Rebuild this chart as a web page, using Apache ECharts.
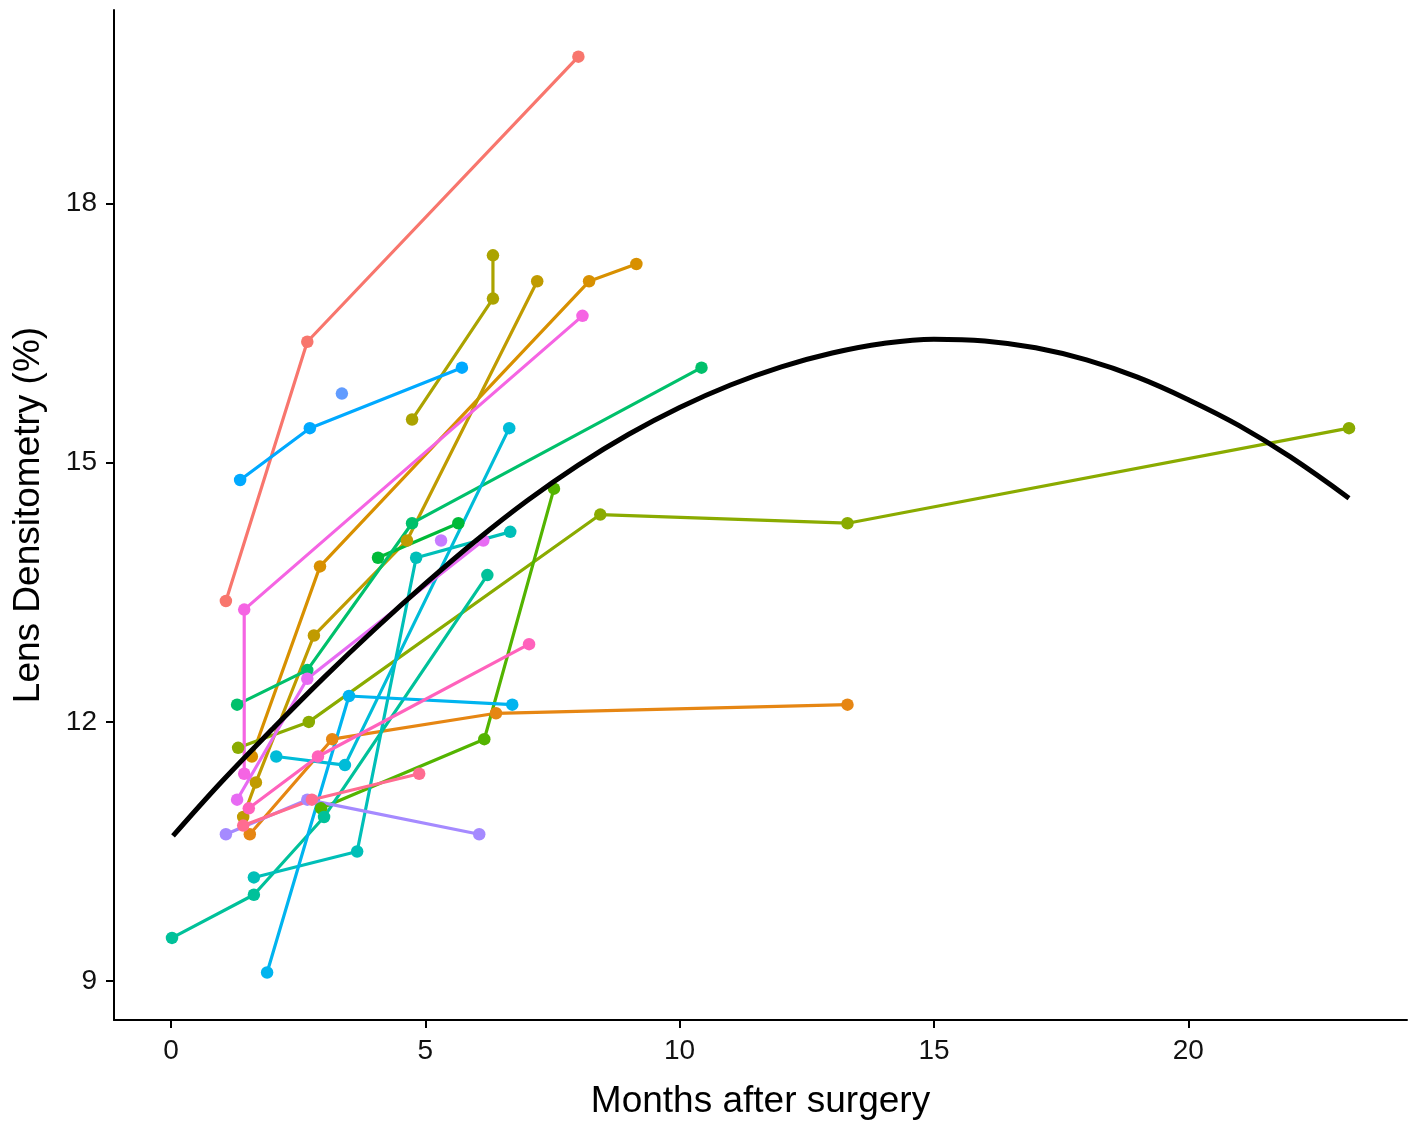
<!DOCTYPE html>
<html lang="en">

<head>
    <meta charset="UTF-8">
    <title>Lens Densitometry</title>
    <script src="https://cdn.jsdelivr.net/npm/echarts@6/dist/echarts.min.js"></script>
    <style>
        html, body { margin: 0; padding: 0; background: #fff; }
        #main { width: 1414px; height: 1122px; }
    </style>
</head>

<body>
    <div id="main"></div>
    <script type="text/javascript">
        // one pair of arrays per eye: months after surgery / densitometry (%)
        var m01 = [1.08, 2.68, 8.01];              var d01 = [13.4, 16.4, 19.7];
        var m02 = [1.59, 2.93, 8.22, 9.15];        var d02 = [11.6, 13.8, 17.1, 17.3];
        var m03 = [1.55, 3.17, 6.39, 13.3];        var d03 = [10.7, 11.8, 12.1, 12.2];
        var m04 = [1.42, 1.67, 2.81, 4.64, 7.2];   var d04 = [10.9, 11.3, 13.0, 14.1, 17.1];
        var m05 = [4.74, 6.33, 6.33];              var d05 = [15.5, 16.9, 17.4];
        var m06 = [1.32, 2.71, 8.44, 13.3, 23.16]; var d06 = [11.7, 12.0, 14.4, 14.3, 15.4];
        var m07 = [2.95, 6.16, 7.53];              var d07 = [11.0, 11.8, 14.7];
        var m08 = [4.07, 5.65];                    var d08 = [13.9, 14.3];
        var m09 = [1.3, 2.68, 4.74, 10.43];        var d09 = [12.2, 12.6, 14.3, 16.1];
        var m10 = [0.02, 1.63, 3.01, 6.22];        var d10 = [9.5, 10.0, 10.9, 13.7];
        var m11 = [1.63, 3.66, 4.82, 6.67];        var d11 = [10.2, 10.5, 13.9, 14.2];
        var m12 = [2.07, 3.42, 6.65];              var d12 = [11.6, 11.5, 15.4];
        var m13 = [1.89, 3.5, 6.71];               var d13 = [9.1, 12.3, 12.2];
        var m14 = [1.36, 2.73, 5.72];              var d14 = [14.8, 15.4, 16.1];
        var m15 = [3.36];                          var d15 = [15.8];
        var m16 = [1.08, 2.68, 6.06];              var d16 = [10.7, 11.1, 10.7];
        var m17 = [5.31];                          var d17 = [14.1];
        var m18 = [1.3, 2.68, 6.14];               var d18 = [11.1, 12.5, 14.1];
        var m19 = [1.44, 1.44, 8.09];              var d19 = [11.4, 13.3, 16.7];
        var m20 = [1.53, 2.89, 7.04];              var d20 = [11.0, 11.6, 12.9];
        var m21 = [1.42, 2.77, 4.88];              var d21 = [10.8, 11.1, 11.4];

        var colors = ['#F8766D', '#D89000', '#E68613', '#C09B00', '#ABA300', '#8AAB00',
            '#53B400', '#00BA38', '#00C06B', '#00C19A', '#00BFB8', '#00BCD8', '#00B4EF',
            '#00A9FF', '#619CFF', '#A58AFF', '#C77CFF', '#E76BF3', '#F564E3', '#FF62BC', '#FF6C91'];
        var months = [m01, m02, m03, m04, m05, m06, m07, m08, m09, m10, m11, m12, m13, m14, m15, m16, m17, m18, m19, m20, m21];
        var dens = [d01, d02, d03, d04, d05, d06, d07, d08, d09, d10, d11, d12, d13, d14, d15, d16, d17, d18, d19, d20, d21];

        // smooth trend
        var fitX = [0.04, 1, 2, 3, 4, 5, 6, 7, 8, 9, 10, 11, 12, 13, 14, 15, 16, 17, 18, 19, 20, 21, 22, 23.16];
        var fitY = [10.68, 11.31, 11.92, 12.51, 13.07, 13.6, 14.1, 14.56, 14.97, 15.33, 15.64, 15.9, 16.11, 16.27,
            16.38, 16.43, 16.41, 16.33, 16.19, 15.99, 15.73, 15.43, 15.07, 14.59];

        var xTicks = [0, 5, 10, 15, 20];
        var yTicks = [9, 12, 15, 18];

        var series = [];
        for (var i = 0; i < months.length; i++) {
            series.push({
                type: 'line',
                data: months[i].map(function (m, k) { return [m, dens[i][k]]; }),
                symbol: 'circle',
                symbolSize: 12.5,
                showAllSymbol: true,
                lineStyle: { width: 3.2, color: colors[i] },
                itemStyle: { color: colors[i] },
                silent: true,
                z: 2
            });
        }
        series.push({
            type: 'line',
            data: fitX.map(function (x, k) { return [x, fitY[k]]; }),
            smooth: 0.4,
            showSymbol: false,
            lineStyle: { width: 5, color: '#000' },
            silent: true,
            z: 3
        });

        var myChart = echarts.init(document.getElementById('main'));
        var axisText = { color: '#111', fontSize: 28, fontFamily: 'Liberation Sans' };
        var option = {
            animation: false,
            grid: { left: 114, right: 7, top: 10, bottom: 102, outerBoundsMode: 'none' },
            xAxis: {
                type: 'value',
                min: -1.12,
                max: 24.3,
                name: 'Months after surgery',
                nameLocation: 'middle',
                nameGap: 63,
                nameTextStyle: { color: '#000', fontSize: 37, fontFamily: 'Liberation Sans' },
                axisLine: { onZero: false, lineStyle: { color: '#000', width: 2 } },
                axisTick: { show: true, length: 8, lineStyle: { color: '#000', width: 2 }, customValues: xTicks },
                axisLabel: Object.assign({ margin: 17, customValues: xTicks }, axisText),
                splitLine: { show: false }
            },
            yAxis: {
                type: 'value',
                min: 8.55,
                max: 20.24,
                name: 'Lens Densitometry (%)',
                nameLocation: 'middle',
                nameGap: 67,
                nameTextStyle: { color: '#000', fontSize: 37, fontFamily: 'Liberation Sans' },
                axisLine: { show: true, onZero: false, lineStyle: { color: '#000', width: 2 } },
                axisTick: { show: true, length: 8, lineStyle: { color: '#000', width: 2 }, customValues: yTicks },
                axisLabel: Object.assign({ margin: 17, customValues: yTicks }, axisText),
                splitLine: { show: false }
            },
            series: series
        };
        myChart.setOption(option);
    </script>
</body>

</html>
